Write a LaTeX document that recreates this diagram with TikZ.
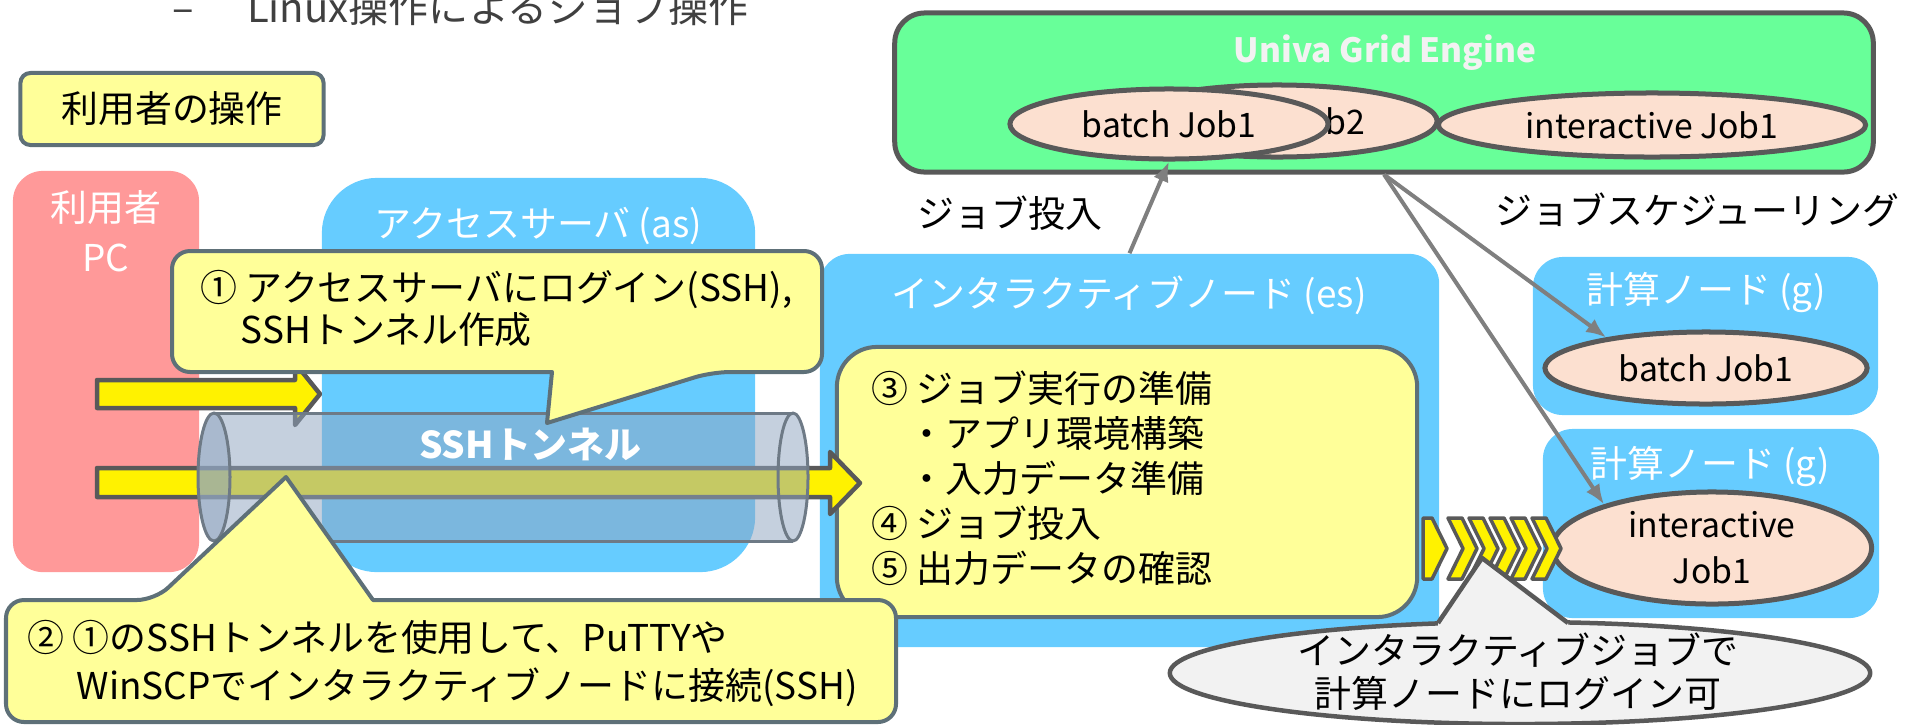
\documentclass[tikz,border=0pt]{standalone}
\usepackage{fontspec}
\setmainfont{Noto Sans CJK JP}
\usetikzlibrary{shapes.geometric,arrows.meta}

\definecolor{userpink}{RGB}{255,153,153}
\definecolor{nodeblue}{RGB}{102,204,255}
\definecolor{ugegreen}{RGB}{104,255,153}
\definecolor{notefill}{RGB}{255,255,153}
\definecolor{noteline}{RGB}{94,112,120}
\definecolor{jobfill}{RGB}{252,224,208}
\definecolor{darkline}{RGB}{89,89,89}
\definecolor{connline}{RGB}{127,127,127}
\definecolor{tunnelfill}{RGB}{144,165,192}
\definecolor{tunnelline}{RGB}{110,122,134}
\definecolor{bubblefill}{RGB}{242,242,242}
\definecolor{titlegray}{RGB}{64,64,64}

\newcommand{\diagfont}{\fontsize{10.5pt}{12.6pt}\selectfont}
\newcommand{\jobfont}{\fontsize{9.6pt}{13.1pt}\selectfont}

\begin{document}
\begin{tikzpicture}[x=0.01cm, y=-0.01cm, line join=round,
	panel/.style={fill=#1, rounded corners=0.3cm, inner sep=0pt},
	notebox/.style={fill=notefill, draw=noteline, line width=0.04cm},
	job/.style={ellipse, fill=jobfill, draw=darkline, line width=0.05cm, inner sep=0pt, font=\jobfont},
	paneltitle/.style={text=white, font=\diagfont, inner sep=0pt},
	lbl/.style={font=\diagfont, inner sep=0pt},
	blockarrow/.style={fill=yellow, draw=darkline, line width=0.045cm},
	conn/.style={draw=connline, line width=0.04cm, -{Latex[length=0.2cm,width=0.16cm]}}]

		\useasboundingbox (0,0) rectangle (1907,724);

		% titolo
		\node[anchor=base west, inner sep=0pt, text=titlegray, font=\fontsize{11.4pt}{13pt}\selectfont] (title) at (172,22) {–\hspace{0.53cm}Linux操作によるジョブ操作};
		\node[notebox, rounded corners=0.1cm, minimum width=3.03cm, minimum height=0.72cm, font=\diagfont, inner sep=0pt] (ops) at (172,109) {利用者の操作};

		% pannelli
		\node[panel=userpink, minimum width=1.86cm, minimum height=4.01cm] (user) at (106,371.5) {};
		\node[panel=nodeblue, rounded corners=0.55cm, minimum width=4.33cm, minimum height=3.94cm] (as) at (538.5,375) {};
		\node[panel=nodeblue, minimum width=6.19cm, minimum height=3.93cm] (es) at (1129.5,450.5) {};
		\node[panel=nodeblue, minimum width=3.45cm, minimum height=1.58cm] (gtop) at (1705.5,336) {};
		\node[panel=nodeblue, minimum width=3.36cm, minimum height=1.89cm] (gbot) at (1711,523.5) {};

		\node[paneltitle] (usertitle) at (106,208) {利用者};
		\node[paneltitle] (userpc) at (106,258) {PC};
		\node[paneltitle] (astitle) at (538,226) {アクセスサーバ (as)};
		\node[paneltitle] (estitle) at (1129,295) {インタラクティブノード (es)};
		\node[paneltitle] (gtoptitle) at (1706,293) {計算ノード (g)};
		\node[paneltitle] (gbottitle) at (1710,467) {計算ノード (g)};

		\node[notebox, rounded corners=0.4cm, minimum width=5.8cm, minimum height=2.7cm] (prep) at (1127,482) {};
		\node[lbl, anchor=west, align=left, font=\fontsize{10.5pt}{12.8pt}\selectfont] (preptext) at (871,478) {③ ジョブ実行の準備\\　・アプリ環境構築\\　・入力データ準備\\④ ジョブ投入\\⑤ 出力データの確認};

		% frecce e tunnel
		\draw[blockarrow] (97,380) -- (295,380) -- (295,363) -- (320,394) -- (295,425) -- (295,408) -- (97,408) -- cycle;
		\draw[blockarrow] (97,468) -- (830,468) -- (830,452) -- (860,483) -- (830,514) -- (830,497) -- (97,497) -- cycle;

		\fill[tunnelfill, fill opacity=0.52] (214,413) -- (793,413) arc[start angle=-90, end angle=90, x radius=15, y radius=64] -- (214,541) arc[start angle=90, end angle=270, x radius=16, y radius=64] -- cycle;
		\filldraw[fill=tunnelfill, fill opacity=0.52, draw=tunnelline, line width=0.03cm] (214,477) ellipse [x radius=16, y radius=64];
		\draw[tunnelline, line width=0.03cm] (793,477) ellipse [x radius=15, y radius=64];
		\draw[tunnelline, line width=0.03cm] (214,413) -- (793,413) (214,541) -- (793,541);
		\node[paneltitle, font=\bfseries\diagfont] (tunneltext) at (530,444) {SSHトンネル};

		% fumetti
		\filldraw[notebox] (552,372) [rounded corners=0.18cm] -- (172,372) -- (172,251) -- (822,251) -- (822,372) -- (712,372) [sharp corners] -- (547,423) -- cycle;
		\node[lbl, anchor=west, align=left, font=\fontsize{10.5pt}{12.2pt}\selectfont] (call1text) at (200,308.5) {① アクセスサーバにログイン(SSH),\\\hspace*{0.4cm}SSHトンネル作成};

		\filldraw[notebox] (373,600) [rounded corners=0.18cm] -- (896,600) -- (896,722) -- (6,722) -- (6,600) -- (155,600) [sharp corners] -- (286,477) -- cycle;
		\node[lbl, anchor=west, align=left, font=\fontsize{10.5pt}{13.4pt}\selectfont] (call2text) at (27,663.5) {② ①のSSHトンネルを使用して、PuTTYや\\\hspace*{0.49cm}WinSCPでインタラクティブノードに接続(SSH)};

		% scheduler
		\node[panel=ugegreen, draw=darkline, line width=0.05cm, minimum width=9.78cm, minimum height=1.59cm] (uge) at (1384,92.5) {};
		\node[lbl, text=bubblefill, font=\bfseries\fontsize{9.5pt}{11pt}\selectfont] (ugetitle) at (1385,53) {Univa Grid Engine};
		\node[job, minimum width=3.2cm, minimum height=0.72cm] (ujob2) at (1277,121) {\hspace*{0.02cm}batch Job2};
		\node[job, minimum width=3.18cm, minimum height=0.7cm] (ujob1) at (1169,124) {batch Job1};
		\node[job, minimum width=4.27cm, minimum height=0.64cm] (uint) at (1652,125) {interactive Job1};

		\node[job, minimum width=3.22cm, minimum height=0.72cm] (gbatch) at (1706,368) {batch Job1};
		\node[job, minimum width=3.19cm, minimum height=1.12cm, align=center] (gint) at (1712,548) {interactive\\Job1};

		\draw[conn] (es.north) -- (ujob1.south);
		\draw[conn] (uge.south) -- (gbatch.163);
		\draw[conn] (uge.south) -- (gint.158);
		\node[lbl] (submitlbl) at (1010,213) {ジョブ投入};
		\node[lbl, anchor=west] (schedlbl) at (1495,210) {ジョブスケジューリング};

		% login interattivo
		\filldraw[blockarrow, line width=0.035cm] (1423,518) -- (1432,518) -- (1447,548.5) -- (1432,579) -- (1423,579) -- cycle;
		\foreach \x in {1448,1469,...,1532}
			\filldraw[blockarrow, line width=0.035cm] (\x,518) -- ({\x+14},518) -- ({\x+29},548.5) -- ({\x+14},579) -- (\x,579) -- ({\x+15},548.5) -- cycle;

		\node[ellipse, fill=bubblefill, draw=darkline, line width=0.045cm, minimum width=7cm, minimum height=1.02cm, inner sep=0pt] (bubble) at (1520,673) {};
		\fill[bubblefill] (1438,623) -- (1482,558) -- (1568,623) -- (1568,632) -- (1438,632) -- cycle;
		\draw[darkline, line width=0.045cm] (1438,623) -- (1482,558) -- (1568,623);
		\node[lbl, align=center, font=\fontsize{10.5pt}{12.2pt}\selectfont] (bubbletext) at (1518,671.5) {インタラクティブジョブで\\計算ノードにログイン可};
	\end{tikzpicture}
\end{document}
